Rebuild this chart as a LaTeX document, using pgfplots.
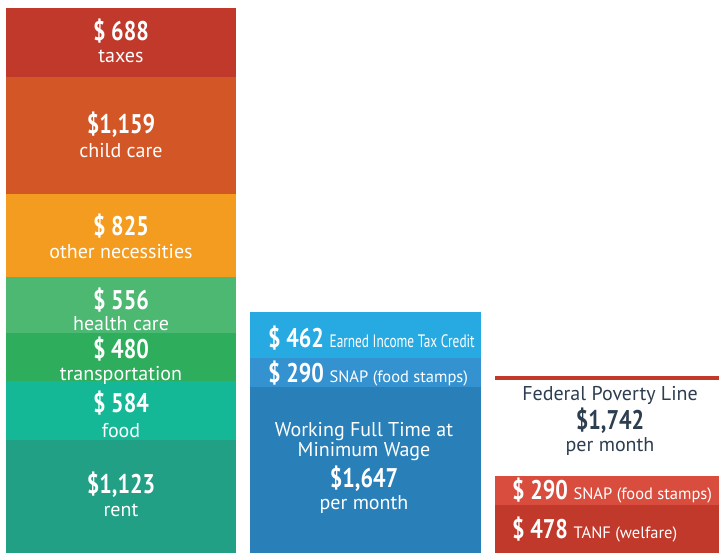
\documentclass[border=0pt]{standalone}
\usepackage{fontspec}
\setmainfont{PT Sans}
\newfontfamily\numf{PT Sans}[FakeStretch=0.82]
\newfontfamily\condf{PT Sans}[FakeStretch=0.74]
\usepackage{pgfplots}
\pgfplotsset{compat=1.18}
\definecolor{ctax}{HTML}{C0392B}
\definecolor{cchild}{HTML}{D35627}
\definecolor{cother}{HTML}{F39C1F}
\definecolor{chealth}{HTML}{4CB872}
\definecolor{ctrans}{HTML}{2EAD5C}
\definecolor{cfood}{HTML}{14B896}
\definecolor{crent}{HTML}{22A085}
\definecolor{ceitc}{HTML}{27AAE1}
\definecolor{csnapm}{HTML}{3592D0}
\definecolor{cwage}{HTML}{2980B9}
\definecolor{csnapr}{HTML}{D84D3D}
\definecolor{ctanf}{HTML}{C0392B}
\definecolor{cdark}{HTML}{2C3E50}
\newcommand{\NUM}{\numf\bfseries\fontsize{27}{30}\selectfont}
\newcommand{\LBL}{\fontsize{20}{23}\selectfont}
\newcommand{\SLBL}{\fontsize{16.5}{19}\selectfont}
\pgfplotsset{base/.style={width=719pt,height=554pt,scale only axis,
  at={(0,0)},anchor=south west,xmin=0,xmax=719,ymin=-9.94,ymax=5497.02,
  hide axis,clip=false}}
\tikzset{lb/.style={anchor=base,inner sep=0pt,text=white,align=center},
         lbw/.style={anchor=base west,inner sep=0pt,text=white}}
\begin{document}
\begin{tikzpicture}
\path[use as bounding box] (0,0) rectangle (719pt,554pt);
% Left bar: monthly expenses
\begin{axis}[base,ybar stacked,bar width=230]
\addplot[fill=crent,draw=none] coordinates {(121,1123)};
\addplot[fill=cfood,draw=none] coordinates {(121,584)};
\addplot[fill=ctrans,draw=none] coordinates {(121,480)};
\addplot[fill=chealth,draw=none] coordinates {(121,556)};
\addplot[fill=cother,draw=none] coordinates {(121,825)};
\addplot[fill=cchild,draw=none] coordinates {(121,1159)};
\addplot[fill=ctax,draw=none] coordinates {(121,688)};
\end{axis}
% Middle bar: income at minimum wage
\begin{axis}[base,ybar stacked,bar width=231]
\addplot[fill=cwage,draw=none] coordinates {(365.5,1647)};
\addplot[fill=csnapm,draw=none] coordinates {(365.5,290)};
\addplot[fill=ceitc,draw=none] coordinates {(365.5,462)};
\end{axis}
% Right bar: TANF and SNAP
\begin{axis}[base,ybar stacked,bar width=224]
\addplot[fill=ctanf,draw=none] coordinates {(607,478)};
\addplot[fill=csnapr,draw=none] coordinates {(607,290)};
\end{axis}
% Poverty line and all labels
\begin{axis}[base]
\addplot[ctax,line width=4.5pt,no marks] coordinates {(495,1742) (719,1742)};
\node[lb,text=cdark] at (axis cs:610,1516) {\LBL Federal Poverty Line};
\node[lb,text=cdark] at (axis cs:610,1227) {\NUM\$1,742};
\node[lb,text=cdark] at (axis cs:610,1012) {\LBL per month};
% left labels
\node[lb] at (axis cs:121,5099) {\NUM\$ 688};
\node[lb] at (axis cs:121,4871) {\LBL taxes};
\node[lb] at (axis cs:121,4165) {\NUM\$1,159};
\node[lb] at (axis cs:121,3936) {\LBL child care};
\node[lb] at (axis cs:121,3161) {\NUM\$ 825};
\node[lb] at (axis cs:121,2932) {\LBL other necessities};
\node[lb] at (axis cs:121,2425) {\NUM\$ 556};
\node[lb] at (axis cs:121,2207) {\LBL health care};
\node[lb] at (axis cs:121,1938) {\NUM\$ 480};
\node[lb] at (axis cs:121,1710) {\LBL transportation};
\node[lb] at (axis cs:121,1392) {\NUM\$ 584};
\node[lb] at (axis cs:121,1153) {\LBL food};
\node[lb] at (axis cs:121,587) {\NUM\$1,123};
\node[lb] at (axis cs:121,358) {\LBL rent};
% middle labels
\node[lbw] at (axis cs:268,2047.7) {\NUM\$ 462 {\mdseries\condf\fontsize{18}{20}\selectfont Earned Income Tax Credit}};
\node[lbw] at (axis cs:268,1689.9) {\NUM\$ 290 {\mdseries\rmfamily\SLBL SNAP (food stamps)}};
\node[lb] at (axis cs:364,1160) {\LBL Working Full Time at};
\node[lb] at (axis cs:364,958) {\LBL Minimum Wage};
\node[lb] at (axis cs:364,656) {\NUM\$1,647};
\node[lb] at (axis cs:364,437) {\LBL per month};
% right labels
\node[lbw] at (axis cs:512,527) {\NUM\$ 290 {\mdseries\rmfamily\SLBL SNAP (food stamps)}};
\node[lbw] at (axis cs:512,144) {\NUM\$ 478 {\mdseries\rmfamily\SLBL TANF (welfare)}};
\end{axis}
\end{tikzpicture}
\end{document}
